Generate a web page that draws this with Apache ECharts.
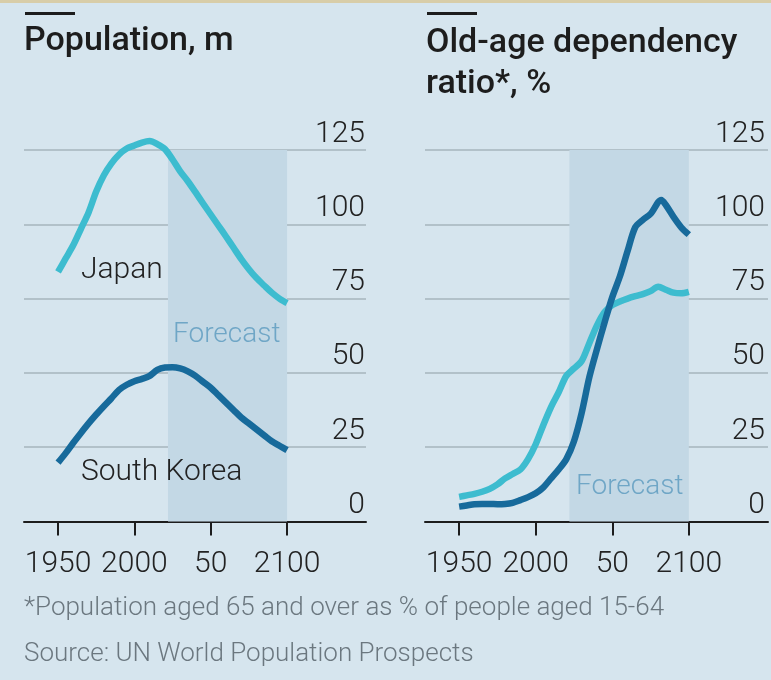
<!DOCTYPE html>
<html>
<head>
<meta charset="utf-8">
<script src="https://cdn.jsdelivr.net/npm/echarts@6/dist/echarts.min.js"></script>
<style>
  html, body { margin: 0; padding: 0; background: #d6e5ee; }
  #chart { width: 771px; height: 680px; }
</style>
</head>
<body>
<div id="chart"></div>
<script>
// Japan and South Korea: population and old-age dependency ratio, 1950-2100
const years = [1950, 1955, 1960, 1965, 1970, 1975, 1980, 1985, 1990, 1995,
  2000, 2005, 2010, 2015, 2020, 2025, 2030, 2035, 2040, 2045,
  2050, 2055, 2060, 2065, 2070, 2075, 2080, 2085, 2090, 2095, 2100];

// Population, m
const japanPop = [84, 88.5, 93, 98.5, 104, 111, 116.5, 120.5, 123.5, 125.5,
  126.5, 127.5, 128, 127, 125.3, 121.8, 117.8, 114.5, 110.8, 107,
  103.3, 99.6, 95.9, 92.1, 88.3, 84.9, 81.9, 79.4, 77, 75, 73.5];
const koreaPop = [19.8, 23, 26.5, 29.8, 33, 36, 38.8, 41.5, 44.3, 46,
  47.2, 48, 49, 51, 51.8, 51.9, 51.5, 50.5, 49, 47,
  45, 42.5, 40, 37.5, 35, 33, 31, 29, 27, 25.5, 24];

// Old-age dependency ratio, %
const japanOadr = [8.3, 8.8, 9.3, 10, 11, 12.5, 14.5, 16, 17.5, 21,
  26, 32.5, 38.5, 43.5, 49, 51.5, 54, 60, 66, 70.5,
  72.8, 74, 75, 75.8, 76.5, 77.5, 79, 78, 77, 76.8, 77.3];
const koreaOadrYears = [1950, 1955, 1960, 1965, 1970, 1975, 1980, 1985, 1990, 1995,
  2000, 2005, 2010, 2015, 2020, 2025, 2030, 2035, 2040, 2045,
  2050, 2055, 2060, 2065, 2070, 2075, 2082, 2085, 2090, 2095, 2100];
const koreaOadr = [5, 5.4, 5.8, 5.9, 5.9, 5.8, 5.9, 6.3, 7.2, 8.2,
  9.5, 11.5, 14.5, 17.5, 21, 27, 36.5, 48.5, 58, 67,
  75.5, 82.5, 91, 99, 101.5, 103.5, 108.2, 106.5, 102.5, 99, 96.5];

const forecastFrom = 2022;
const forecastTo = 2100;
const xTicks = [1950, 2000, 2050, 2100];
const xTickLabels = ['1950', '2000', '50', '2100'];

const pairs = (xs, ys) => xs.map((x, i) => [x, ys[i]]);

const FONT = "Roboto, 'Liberation Sans', sans-serif";
const JAPAN = '#3dbccf';
const KOREA = '#176a9b';
const INK = '#1d1d1d';
const LABEL = '#222222';
const GRIDC = '#a6b4bd';
const BAND = '#c3d8e5';
const FORECAST_TXT = '#6fa6c6';
const NOTE = '#6b777f';

function xAxisFor(gridIndex) {
  return {
    type: 'value', gridIndex,
    min: 1927.7, max: 2151.7,
    axisLine: { show: true, lineStyle: { color: INK, width: 2 } },
    axisTick: { show: true, customValues: xTicks, length: 14, lineStyle: { color: INK, width: 2 } },
    axisLabel: {
      customValues: xTicks, margin: 28,
      formatter: v => xTickLabels[xTicks.indexOf(v)],
      color: LABEL, fontFamily: FONT, fontSize: 30, fontWeight: 300
    },
    splitLine: { show: false }
  };
}
function yAxisFor(gridIndex, margin) {
  return {
    type: 'value', gridIndex, position: 'right',
    min: 0, max: 125, interval: 25,
    axisLine: { show: false }, axisTick: { show: false },
    axisLabel: {
      inside: true, margin, align: 'right', verticalAlign: 'bottom',
      padding: [0, 0, 1, 0],
      color: LABEL, fontFamily: FONT, fontSize: 30, fontWeight: 300
    },
    splitLine: { show: true, lineStyle: { color: GRIDC, width: 1.5 } }
  };
}
function band() {
  return {
    silent: true,
    itemStyle: { color: BAND },
    data: [[{ xAxis: forecastFrom, yAxis: 0 }, { xAxis: forecastTo, yAxis: 125 }]]
  };
}
function line(name, xi, data, color, withBand) {
  const s = {
    name, type: 'line', xAxisIndex: xi, yAxisIndex: xi,
    data, showSymbol: false, smooth: 0.3, clip: false,
    lineStyle: { color, width: 6.5, cap: 'butt', join: 'round' },
    z: 3
  };
  if (withBand) s.markArea = band();
  return s;
}

const text = (t, x, y, size, color, weight) => ({
  type: 'text', x, y,
  style: {
    text: t, fill: color, fontFamily: FONT, fontSize: size,
    fontWeight: weight || 'normal', align: 'left', verticalAlign: 'middle'
  },
  z: 10
});

const chart = echarts.init(document.getElementById('chart'), null, { renderer: 'canvas' });
chart.setOption({
  backgroundColor: '#d6e5ee',
  animation: false,
  grid: [
    { left: 24, right: 405, top: 150, bottom: 158.5 },
    { left: 425, right: 3, top: 150, bottom: 158.5 }
  ],
  xAxis: [xAxisFor(0), xAxisFor(1)],
  yAxis: [yAxisFor(0, 1), yAxisFor(1, 3)],
  series: [
    line('Japan', 0, pairs(years, japanPop), JAPAN, true),
    line('South Korea', 0, pairs(years, koreaPop), KOREA, false),
    line('Japan', 1, pairs(years, japanOadr), JAPAN, true),
    line('South Korea', 1, pairs(koreaOadrYears, koreaOadr), KOREA, false)
  ],
  graphic: [
    { type: 'rect', shape: { x: 0, y: 0, width: 771, height: 3 }, style: { fill: '#d8cda8' } },
    { type: 'rect', shape: { x: 25, y: 12, width: 50, height: 3 }, style: { fill: INK } },
    { type: 'rect', shape: { x: 427, y: 12, width: 50, height: 3 }, style: { fill: INK } },
    text('Population, m', 24, 41, 34, INK, 500),
    text('Old-age dependency', 426, 43, 34, INK, 500),
    text('ratio*, %', 426, 84, 34, INK, 500),
    text('Japan', 81, 270, 30, LABEL, 300),
    text('South Korea', 81, 472, 30, LABEL, 300),
    text('Forecast', 173, 335, 28, FORECAST_TXT, 300),
    text('Forecast', 576, 487, 28, FORECAST_TXT, 300),
    text('*Population aged 65 and over as % of people aged 15-64', 24, 608, 26, NOTE, 300),
    text('Source: UN World Population Prospects', 24, 654, 26, NOTE, 300)
  ]
});
</script>
</body>
</html>
